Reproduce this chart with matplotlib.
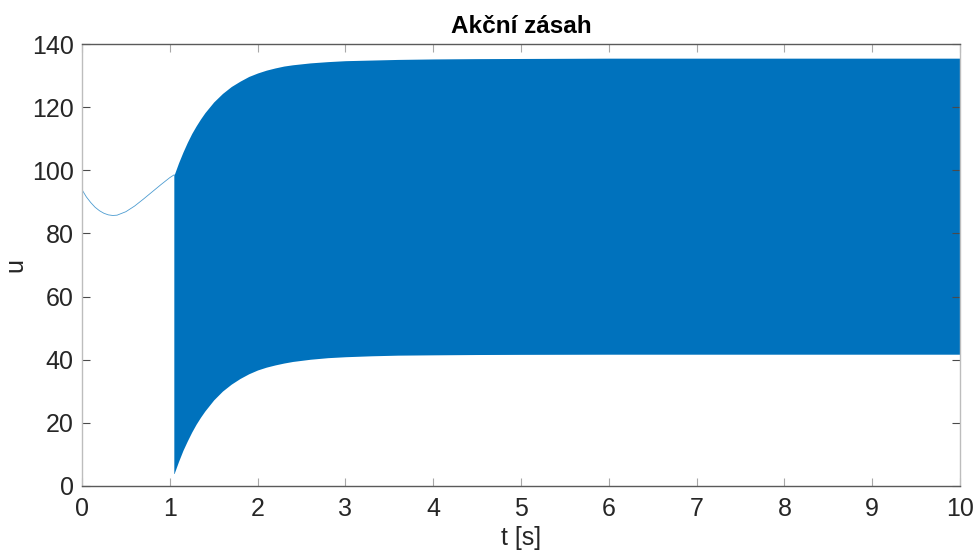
import numpy as np
import matplotlib
matplotlib.use('Agg')
import matplotlib.pyplot as plt

# odezva akcniho zasahu pred prepnutim (t < 1.05 s)
t_start = [0, 0.05, 0.1, 0.15, 0.2, 0.25, 0.3, 0.35, 0.4, 0.5, 0.6, 0.7, 0.8, 0.9, 1.0, 1.05]
u_start = [93.9, 91.6, 89.8, 88.3, 87.2, 86.4, 85.9, 85.7, 85.8, 86.9, 88.7, 90.9, 93.2, 95.5, 97.7, 98.6]

# obalka rychle oscilace po prepnuti (horni a dolni mez)
t_band = [1.05, 1.10, 1.15, 1.20, 1.25, 1.30, 1.35, 1.40, 1.50, 1.60, 1.70, 1.80, 1.90, 2.00,
          2.10, 2.20, 2.30, 2.40, 2.60, 2.80, 3.00, 3.30, 3.60, 4.00, 4.50, 5.00, 6.00, 8.00, 10.0]
u_upper = [98.6, 102.4, 105.8, 108.9, 111.7, 114.1, 116.3, 118.3, 121.7, 124.4, 126.6, 128.3, 129.8, 130.9,
           131.8, 132.5, 133.1, 133.5, 134.1, 134.5, 134.8, 135.0, 135.2, 135.35, 135.45, 135.5, 135.6, 135.6, 135.6]
u_lower = [3.9, 7.7, 11.2, 14.2, 17.0, 19.5, 21.7, 23.7, 27.2, 30.0, 32.2, 34.0, 35.5, 36.7,
           37.6, 38.3, 38.9, 39.4, 40.1, 40.6, 40.9, 41.2, 41.4, 41.5, 41.6, 41.65, 41.7, 41.7, 41.7]

plt.rcParams['font.family'] = ['Liberation Sans', 'DejaVu Sans']
text_col = '#262626'

fig = plt.figure(figsize=(9.78, 5.55), dpi=100)
ax = fig.add_axes([0.0838, 0.1249, 0.8978, 0.7953])

blue = '#0072BD'
ax.fill_between(t_band, u_lower, u_upper, color=blue, linewidth=0)
ax.plot(t_start, u_start, color=blue, linewidth=0.6, alpha=0.7)
ax.plot([t_band[0], t_band[0]], [u_lower[0], u_upper[0]], color=blue, linewidth=0.6, alpha=0.6)

ax.set_xlim(0, 10)
ax.set_ylim(0, 140)
ax.set_xticks(range(0, 11))
ax.set_yticks(range(0, 141, 20))

ax.set_title('Akční zásah', fontsize=17.5, fontweight='bold', color='black', pad=8)
ax.set_xlabel('t [s]', fontsize=18, color=text_col, labelpad=4)
ax.set_ylabel('u', fontsize=18, color=text_col, labelpad=3)

ax.tick_params(axis='both', direction='in', length=6, width=0.8, labelcolor=text_col,
               top=True, right=True, labelsize=18)
ax.tick_params(axis='x', color='#a8a8a8', pad=8)
ax.tick_params(axis='y', color='#4a4a4a', pad=6)

for side in ['top', 'bottom']:
    ax.spines[side].set_color('#5a5a5a')
for side in ['left', 'right']:
    ax.spines[side].set_color('#bdbdbd')
for s in ax.spines.values():
    s.set_linewidth(1.0)

fig.savefig('out.png', dpi=100)
